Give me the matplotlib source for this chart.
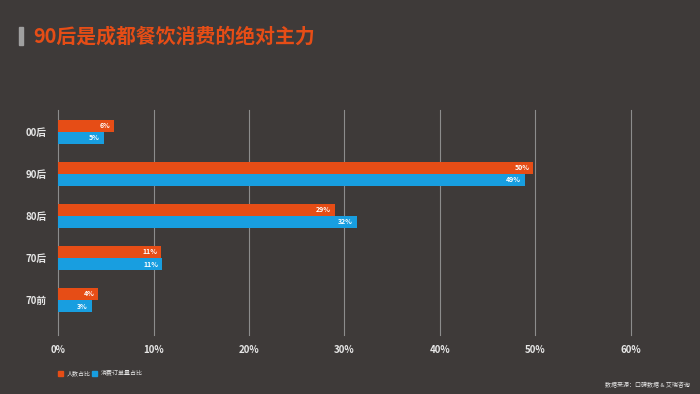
import matplotlib

matplotlib.use("Agg")
import matplotlib.pyplot as plt
from matplotlib.patches import Rectangle

plt.rcParams["font.family"] = ["Noto Sans CJK SC", "DejaVu Sans"]

# data
categories = ["00后", "90后", "80后", "70后", "70前"]
people_share = [5.9, 49.8, 29.0, 10.8, 4.2]
order_share = [4.8, 48.9, 31.3, 10.9, 3.5]
people_labels = ["6%", "50%", "29%", "11%", "4%"]
order_labels = ["5%", "49%", "32%", "11%", "3%"]
series_names = ["人数占比", "消费订单量占比"]
x_ticks = [0, 10, 20, 30, 40, 50, 60]

BG = "#3e3a39"
ORANGE = "#e64d16"
BLUE = "#189ee0"
TEXT = "#e6e6e6"

fig = plt.figure(figsize=(7, 3.94), dpi=100, facecolor=BG)
ax = fig.add_axes([0.083, 0.150, 0.818, 0.571], facecolor=BG)

bar_h = 0.29
ys = list(range(len(categories)))
ax.barh([y - bar_h / 2 for y in ys], people_share, height=bar_h, color=ORANGE, zorder=3)
ax.barh([y + bar_h / 2 for y in ys], order_share, height=bar_h, color=BLUE, zorder=3)

for y, v, lab in zip(ys, people_share, people_labels):
    ax.text(v - 0.4, y - bar_h / 2, lab, ha="right", va="center", color="white",
            fontsize=5, fontweight="bold", zorder=4)
for y, v, lab in zip(ys, order_share, order_labels):
    ax.text(v - 0.4, y + bar_h / 2, lab, ha="right", va="center", color="white",
            fontsize=5, fontweight="bold", zorder=4)

ax.set_xlim(0, 60)
ax.set_ylim(4.83, -0.52)
ax.set_xticks(x_ticks)
ax.set_xticklabels([f"{t}%" for t in x_ticks], color=TEXT, fontsize=7, fontweight="bold")
ax.set_yticks(ys)
ax.set_yticklabels(categories, color=TEXT, fontsize=7, fontweight="bold")
ax.tick_params(length=0, pad=8)
ax.tick_params(axis="x", pad=7)
for t in x_ticks:
    ax.axvline(t, color="#8c8c8c", linewidth=0.8, zorder=1, clip_on=False)
for s in ax.spines.values():
    s.set_visible(False)

# title with grey marker
fig.patches.append(Rectangle((19 / 700, 1 - 45 / 394), 3.5 / 700, 18 / 394,
                             transform=fig.transFigure, color="#a0a0a0", figure=fig))
fig.text(33 / 700, 1 - 36 / 394, "90后是成都餐饮消费的绝对主力", color=ORANGE,
         fontsize=14.3, fontweight="bold", va="center", ha="left")

# legend
lx = 58 / 700
for name, col in zip(series_names, [ORANGE, BLUE]):
    fig.patches.append(Rectangle((lx, 1 - 376 / 394), 5 / 700, 5 / 394,
                                 transform=fig.transFigure, color=col, figure=fig))
    fig.text(lx + 9 / 700, 1 - 373.5 / 394, name, color=TEXT, fontsize=4.3, va="center")
    lx += 34 / 700

fig.text(690 / 700, 1 - 385 / 394, "数据来源：口碑数据 & 艾瑞咨询", color=TEXT,
         fontsize=4.3, ha="right", va="center")

fig.savefig("out.png", dpi=100, facecolor=BG)
